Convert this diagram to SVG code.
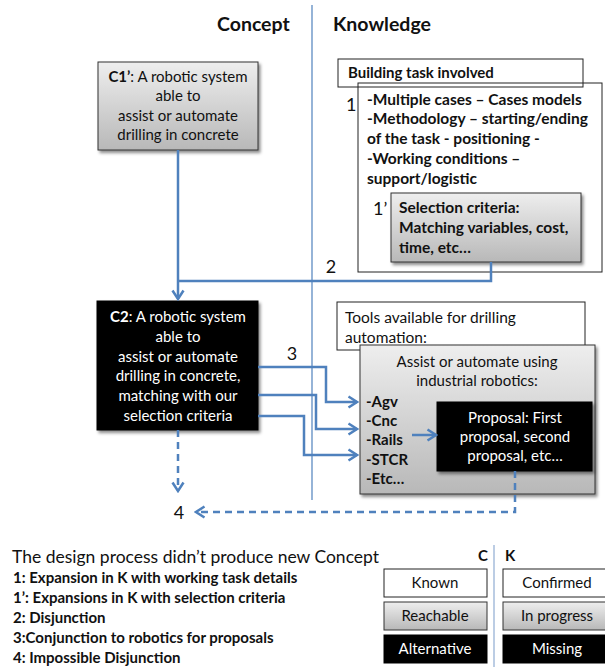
<svg xmlns="http://www.w3.org/2000/svg" width="605" height="667" viewBox="0 0 605 667">
<style>
text{font-family:Lato,"Liberation Sans",sans-serif;fill:#111}
.hd{font-size:19.5px;font-weight:bold}
.t14{font-size:15px}
.t13{font-size:15px}
.kb{font-size:15.5px;font-weight:bold}
.b{font-weight:bold}
.w{fill:#fff}
.num{font-size:18px}
.mid{text-anchor:middle}
.box{fill:#fff;stroke:#222;stroke-width:1}
.gray{fill:url(#g);stroke:#333;stroke-width:1}
.blk{fill:#000;stroke:#000}
.con{fill:none;stroke:#4f81bd;stroke-width:2.5}
.dash{stroke-dasharray:7,5}
.div{stroke:#4f81bd;stroke-width:1.2}
</style>
<defs>
<linearGradient id="g" x1="0" y1="0" x2="0" y2="1">
<stop offset="0" stop-color="#eeeeee"/>
<stop offset="1" stop-color="#b8b8b8"/>
</linearGradient>
<filter id="sh" x="-10%" y="-10%" width="130%" height="130%">
<feDropShadow dx="2" dy="2.5" stdDeviation="1.5" flood-color="#000" flood-opacity="0.45"/>
</filter>
<marker id="ar" markerUnits="userSpaceOnUse" viewBox="0 0 12 14" markerWidth="12" markerHeight="14" refX="10" refY="7" orient="auto">
<path d="M1.5,1.5 L10,7 L1.5,12.5" fill="none" stroke="#4f81bd" stroke-width="2.5"/>
</marker>
</defs>
<rect width="605" height="667" fill="#fff"/>

<g id="header">
<text class="hd" x="217" y="31">Concept</text>
<text class="hd" x="333" y="31">Knowledge</text>
<line class="div" x1="312" y1="5" x2="312" y2="500"/>
</g>

<g id="c1">
<rect class="gray" x="98" y="62" width="160" height="88" filter="url(#sh)"/>
<text class="t14 mid" x="178" y="82"><tspan class="b">C1’</tspan>: A robotic system</text>
<text class="t14 mid" x="178" y="101">able to</text>
<text class="t14 mid" x="178" y="121">assist or automate</text>
<text class="t14 mid" x="178" y="140">drilling in concrete</text>
</g>

<g id="knowledge1">
<rect class="box" x="358" y="83" width="244" height="189"/>
<rect x="338" y="59" width="245" height="28" fill="none" stroke="#222"/>
<text class="t13 b" x="348" y="78">Building task involved</text>
<text class="num" x="346" y="111">1</text>
<text class="kb" x="367" y="105">-Multiple cases – Cases models</text>
<text class="kb" x="367" y="124">-Methodology – starting/ending</text>
<text class="kb" x="367" y="144">of the task  - positioning -</text>
<text class="kb" x="367" y="164">-Working conditions –</text>
<text class="kb" x="367" y="184">support/logistic</text>
</g>

<g id="selection">
<text class="num" x="373" y="215">1’</text>
<rect class="gray" x="391" y="193" width="190" height="69" filter="url(#sh)"/>
<text class="kb" x="399" y="213">Selection criteria:</text>
<text class="kb" x="399" y="233">Matching variables, cost,</text>
<text class="kb" x="399" y="253">time, etc…</text>
</g>

<g id="c2">
<rect class="blk" x="97" y="301" width="161" height="129" filter="url(#sh)"/>
<text class="t14 mid w" x="178" y="322"><tspan class="b w">C2</tspan>: A robotic system</text>
<text class="t14 mid w" x="178" y="342">able to</text>
<text class="t14 mid w" x="178" y="362">assist or automate</text>
<text class="t14 mid w" x="178" y="381">drilling in concrete,</text>
<text class="t14 mid w" x="178" y="401">matching with our</text>
<text class="t14 mid w" x="178" y="421">selection criteria</text>
</g>

<g id="tools">
<rect class="box" x="337" y="302" width="248" height="48"/>
<text x="345" y="323" style="font-size:15.5px">Tools available for drilling</text>
<text x="345" y="343" style="font-size:15.5px">automation:</text>
</g>

<g id="robotics">
<rect class="gray" x="360" y="345" width="235" height="149" filter="url(#sh)"/>
<text class="t14 mid" x="477" y="367">Assist or automate using</text>
<text class="t14 mid" x="477" y="386">industrial robotics:</text>
<text class="t13 b" x="366" y="407">-Agv</text>
<text class="t13 b" x="366" y="426">-Cnc</text>
<text class="t13 b" x="366" y="445">-Rails</text>
<text class="t13 b" x="366" y="465">-STCR</text>
<text class="t13 b" x="366" y="484">-Etc…</text>
</g>

<g id="proposal">
<rect class="blk" x="437" y="402" width="155" height="69" filter="url(#sh)"/>
<text class="t14 mid w" x="515" y="423">Proposal: First</text>
<text class="t14 mid w" x="515" y="442">proposal, second</text>
<text class="t14 mid w" x="515" y="461">proposal, etc…</text>
</g>

<g id="connectors">
<path class="con" d="M178,150 V299" marker-end="url(#ar)"/>
<path class="con" d="M491,262 V281 H178"/>
<path class="con" d="M258,367 H326 V402 H357" marker-end="url(#ar)"/>
<path class="con" d="M258,395 H316 V429 H357" marker-end="url(#ar)"/>
<path class="con" d="M258,416 H304 V455 H357" marker-end="url(#ar)"/>
<path class="con" d="M412,435 H436" marker-end="url(#ar)"/>
<path class="con dash" d="M178,430 V491" marker-end="url(#ar)"/>
<path class="con dash" d="M515,471 V512 H196" marker-end="url(#ar)"/>
</g>

<g id="labels">
<text class="num mid" x="331" y="273">2</text>
<text class="num mid" x="292" y="360">3</text>
<text class="num mid" x="179" y="519">4</text>
</g>

<g id="legend">
<text x="12" y="563" style="font-size:17.5px">The design process didn’t produce new Concept</text>
<text class="t13 b" x="13" y="583">1: Expansion in K with working task details</text>
<text class="t13 b" x="13" y="603">1’: Expansions in K with selection criteria</text>
<text class="t13 b" x="13" y="623">2: Disjunction</text>
<text class="t13 b" x="13" y="643">3:Conjunction to robotics for proposals</text>
<text class="t13 b" x="13" y="663">4: Impossible Disjunction</text>
<text class="t13 b" x="478" y="561">C</text>
<text class="t13 b" x="505" y="561">K</text>
<line x1="494" y1="545" x2="494" y2="667" stroke="#a6bddb" stroke-width="1.5"/>
<rect class="box" x="384" y="569" width="103" height="28"/>
<text class="t14 mid" x="435" y="588">Known</text>
<rect class="gray" x="384" y="602" width="103" height="28"/>
<text class="t14 mid" x="435" y="621">Reachable</text>
<rect class="blk" x="384" y="635" width="103" height="28"/>
<text class="t14 mid w" x="435" y="654">Alternative</text>
<rect class="box" x="503" y="569" width="110" height="28"/>
<text class="t14 mid" x="557" y="588">Confirmed</text>
<rect class="gray" x="503" y="602" width="110" height="28"/>
<text class="t14 mid" x="557" y="621">In progress</text>
<rect class="blk" x="503" y="635" width="110" height="28"/>
<text class="t14 mid w" x="557" y="654">Missing</text>
</g>
</svg>
